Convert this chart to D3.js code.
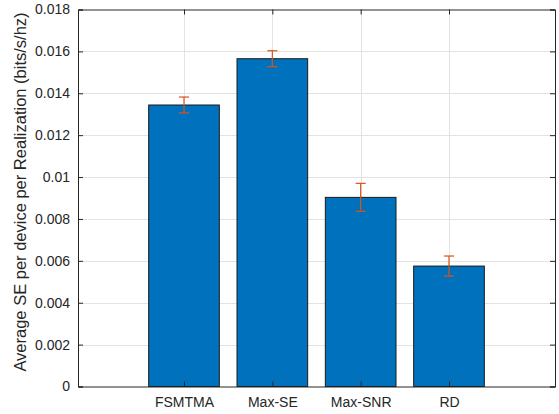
<!DOCTYPE html>
<html>
<head>
<meta charset="utf-8">
<script src="https://cdn.jsdelivr.net/npm/d3@7"></script>
<style>
  html, body { margin: 0; padding: 0; background: #fff; }
  svg { display: block; font-family: "Liberation Sans", Arial, Helvetica, sans-serif; }
</style>
</head>
<body>
<svg id="chart" width="559" height="414"></svg>
<script>
// Average spectral efficiency per scheme, with error half-widths
const categories = ["FSMTMA", "Max-SE", "Max-SNR", "RD"];
const seValues = [0.01344, 0.01565, 0.00903, 0.00575];
const seErrors = [0.00038, 0.00038, 0.00067, 0.00048];
const yTicks = [0, 0.002, 0.004, 0.006, 0.008, 0.01, 0.012, 0.014, 0.016, 0.018];
const yTickLabels = ["0", "0.002", "0.004", "0.006", "0.008", "0.01", "0.012", "0.014", "0.016", "0.018"];
const yLabel = "Average SE per device per Realization (bits/s/hz)";

const svg = d3.select("#chart");
const m = { left: 78, right: 555, top: 9.5, bottom: 386.5 };
const axisColor = "#262626";

// Bars sit at positions 1..4 on a padded linear axis
const x = d3.scaleLinear().domain([-0.2, 5.2]).range([m.left, m.right]);
const y = d3.scaleLinear().domain([0, 0.018]).range([m.bottom, m.top]);
const barW = (x(1) - x(0)) * 0.8;
const pos = categories.map((_, i) => i + 1);

// Grid
const grid = svg.append("g").attr("stroke", "#e3e3e3").attr("stroke-width", 1);
grid.selectAll("line.h").data(yTicks.slice(1, -1)).join("line")
  .attr("x1", m.left).attr("x2", m.right)
  .attr("y1", d => Math.round(y(d)) + 0.5).attr("y2", d => Math.round(y(d)) + 0.5);
grid.selectAll("line.v").data(pos).join("line")
  .attr("y1", m.top).attr("y2", m.bottom)
  .attr("x1", d => Math.round(x(d)) + 0.5).attr("x2", d => Math.round(x(d)) + 0.5);

// Bars
svg.append("g").selectAll("rect").data(seValues).join("rect")
  .attr("x", (d, i) => x(pos[i]) - barW / 2)
  .attr("width", barW)
  .attr("y", d => y(d))
  .attr("height", d => y(0) - y(d))
  .attr("fill", "#0072BD")
  .attr("stroke", "#1a1a1a")
  .attr("stroke-width", 1);

// Error bars
const eb = svg.append("g").attr("stroke", "#D95319").attr("stroke-width", 1.2);
const capW = 5;
seValues.forEach((v, i) => {
  const cx = x(pos[i]);
  const lo = y(v - seErrors[i]), hi = y(v + seErrors[i]);
  eb.append("line").attr("x1", cx).attr("x2", cx).attr("y1", lo).attr("y2", hi);
  eb.append("line").attr("x1", cx - capW).attr("x2", cx + capW).attr("y1", lo).attr("y2", lo);
  eb.append("line").attr("x1", cx - capW).attr("x2", cx + capW).attr("y1", hi).attr("y2", hi);
});

// Axes (box style, ticks inside on all four sides)
const yAxis = d3.axisLeft(y).tickValues(yTicks).tickSize(-5).tickPadding(8)
  .tickFormat((d, i) => yTickLabels[i]);
const xAxis = d3.axisBottom(x).tickValues(pos).tickSize(-5).tickPadding(11)
  .tickFormat((d, i) => categories[i]);

function styleAxis(g) {
  g.select(".domain").attr("stroke", axisColor);
  g.selectAll(".tick line").attr("stroke", axisColor);
  g.selectAll(".tick text").attr("fill", axisColor).attr("font-size", 14)
    .attr("font-family", "Liberation Sans, Arial, sans-serif");
}

svg.append("g").attr("transform", `translate(${m.left},0)`).call(yAxis).call(styleAxis);
svg.append("g").attr("transform", `translate(0,${m.bottom})`).call(xAxis).call(styleAxis);
svg.append("g").attr("transform", `translate(${m.right},0)`)
  .call(d3.axisRight(y).tickValues(yTicks).tickSize(-5).tickFormat(""))
  .call(styleAxis);
svg.append("g").attr("transform", `translate(0,${m.top})`)
  .call(d3.axisTop(x).tickValues(pos).tickSize(-5).tickFormat(""))
  .call(styleAxis);
svg.selectAll(".domain").attr("stroke-width", 1);

// Y axis title
svg.append("text")
  .attr("transform", `translate(26,192) rotate(-90)`)
  .attr("text-anchor", "middle")
  .attr("font-size", 16.5)
  .attr("fill", axisColor)
  .text(yLabel);
</script>
</body>
</html>
